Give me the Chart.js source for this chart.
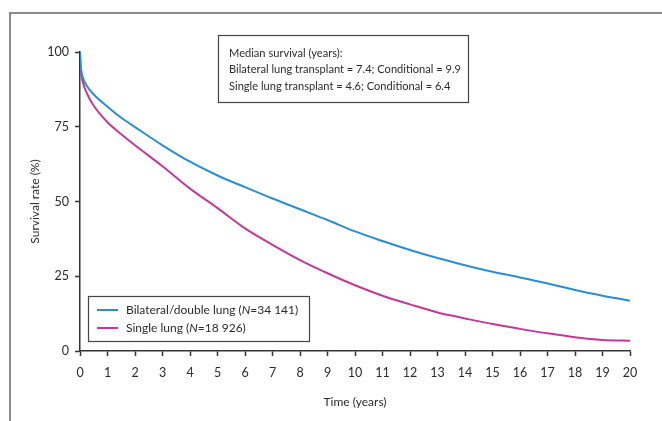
<!DOCTYPE html>
<html lang="en">
<head>
  <meta charset="UTF-8">
  <title>Survival by procedure type</title>
  <style>
    body {
      margin: 0;
      padding: 0;
      background: #fff;
    }
    .chart-container {
      width: 662px;
      height: 421px;
    }
  </style>
</head>
<body>

<div class="chart-container">
  <canvas id="survivalChart"></canvas>
</div>

<script src="https://cdn.jsdelivr.net/npm/chart.js"></script>
<script>
  // time points (years)
  const years = [0, 0.02, 0.05, 0.1, 0.25, 0.5, 1, 1.5, 2, 3, 4, 5, 6, 7, 8, 9, 10, 11, 12, 13, 14, 15, 16, 17, 18, 19, 20];
  const bilateral = [100, 96, 93.5, 91.5, 88.6, 85.8, 81.7, 78, 74.9, 68.8, 63.3, 58.7, 54.8, 51, 47.4, 43.8, 40, 36.8, 33.8, 31.1, 28.7, 26.5, 24.6, 22.6, 20.4, 18.5, 16.8];
  const single = [100, 95.5, 92.5, 90, 86.2, 82, 76.5, 72.5, 68.8, 61.8, 54.3, 47.8, 41, 35.5, 30.4, 26, 22, 18.5, 15.6, 12.9, 10.9, 9, 7.4, 5.9, 4.6, 3.7, 3.4];

  const seriesNames = ['Bilateral/double lung', 'Single lung'];
  const seriesN = ['34 141', '18 926'];
  const seriesColors = ['#2a8ed4', '#c3399a'];

  const medianLines = [
    'Median survival (years):',
    'Bilateral lung transplant = 7.4; Conditional = 9.9',
    'Single lung transplant = 4.6; Conditional = 6.4'
  ];

  const FONT = 'Lato, "Open Sans", sans-serif';
  const TEXT = '#2b2b2b';

  function toPoints(values) {
    return values.map((v, i) => ({ x: years[i], y: v }));
  }

  // frame, info box and legend
  const extrasPlugin = {
    id: 'extras',
    afterDraw(chart) {
      const c = chart.ctx;
      c.save();
      // outer frame (top + left only)
      c.strokeStyle = '#8c8c8c';
      c.lineWidth = 2;
      c.beginPath();
      c.moveTo(662, 13);
      c.lineTo(10, 13);
      c.lineTo(10, 421);
      c.stroke();

      // median survival box
      c.fillStyle = '#fff';
      c.fillRect(218, 35, 250, 67);
      c.strokeStyle = '#444';
      c.lineWidth = 1.2;
      c.strokeRect(218.5, 35.5, 250, 67);
      c.fillStyle = TEXT;
      c.font = '11.1px ' + FONT;
      c.textBaseline = 'middle';
      c.textAlign = 'left';
      medianLines.forEach((t, i) => c.fillText(t, 229, 53 + i * 16.5));

      // legend
      c.fillStyle = '#fff';
      c.fillRect(88, 296, 221, 45);
      c.strokeRect(88.5, 296.5, 221, 45);
      chart.data.datasets.forEach((ds, i) => {
        const y = 310 + i * 18;
        c.strokeStyle = ds.borderColor;
        c.lineWidth = 2;
        c.beginPath();
        c.moveTo(97, y);
        c.lineTo(118, y);
        c.stroke();
        let x = 126;
        const parts = [
          [seriesNames[i] + ' (', 'normal'],
          ['N', 'italic'],
          ['=' + seriesN[i] + ')', 'normal']
        ];
        c.fillStyle = TEXT;
        parts.forEach(([txt, style]) => {
          c.font = style + ' 12px ' + FONT;
          c.fillText(txt, x, y);
          x += c.measureText(txt).width;
        });
      });
      c.restore();
    }
  };

  const ctx = document.getElementById('survivalChart').getContext('2d');
  const survivalChart = new Chart(ctx, {
    type: 'line',
    data: {
      datasets: [{
        label: seriesNames[0],
        data: toPoints(bilateral),
        borderColor: seriesColors[0],
        borderWidth: 2,
        pointRadius: 0,
        cubicInterpolationMode: 'monotone'
      }, {
        label: seriesNames[1],
        data: toPoints(single),
        borderColor: seriesColors[1],
        borderWidth: 2,
        pointRadius: 0,
        cubicInterpolationMode: 'monotone'
      }]
    },
    options: {
      responsive: true,
      maintainAspectRatio: false,
      animation: false,
      layout: {
        padding: { left: 0, top: 52, right: 32, bottom: 0 }
      },
      plugins: {
        legend: { display: false },
        tooltip: { enabled: false }
      },
      scales: {
        x: {
          type: 'linear',
          min: 0,
          max: 20,
          afterFit(scale) { scale.height = 70; },
          border: { color: '#333', width: 1.5 },
          grid: { drawOnChartArea: false, drawTicks: true, tickLength: 5, tickColor: '#333', tickWidth: 1.5 },
          ticks: { stepSize: 1, color: TEXT, padding: 9, maxRotation: 0, font: { family: FONT, size: 12.5 } },
          title: { display: true, text: 'Time (years)', color: TEXT, padding: { top: 0, bottom: 12 }, font: { family: FONT, size: 12 } }
        },
        y: {
          min: 0,
          max: 100,
          afterFit(scale) { scale.width = 80; },
          border: { color: '#333', width: 1.5 },
          grid: { drawOnChartArea: false, drawTicks: true, tickLength: 5, tickColor: '#333', tickWidth: 1.5 },
          ticks: { stepSize: 25, color: TEXT, padding: 6, font: { family: FONT, size: 12.5 } },
          title: { display: true, text: 'Survival rate (%)', color: TEXT, padding: { top: 28, bottom: 0 }, font: { family: FONT, size: 12 } }
        }
      }
    },
    plugins: [extrasPlugin]
  });
</script>

</body>
</html>
